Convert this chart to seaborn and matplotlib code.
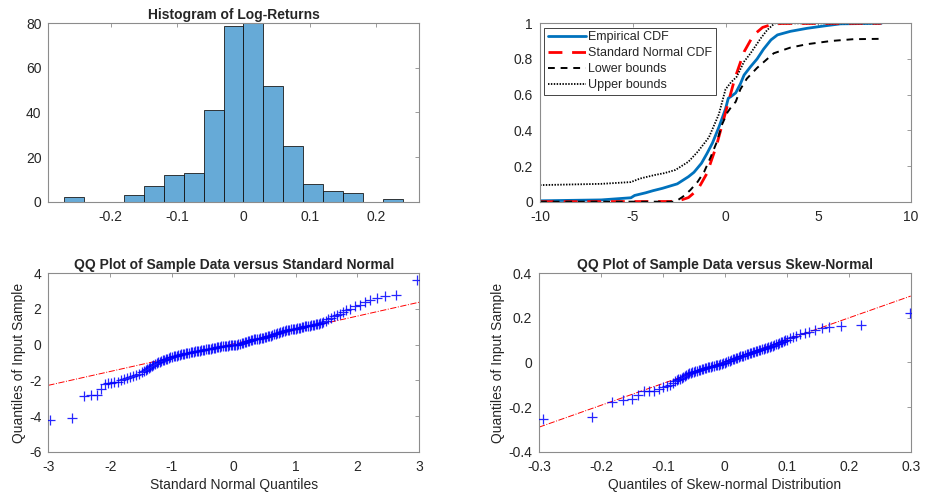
import matplotlib
matplotlib.use('Agg')
import matplotlib.pyplot as plt
import numpy as np
import seaborn as sns

# histogram of log-returns (bin edges + counts)
hist_edges = [-0.27, -0.24, -0.21, -0.18, -0.15, -0.12, -0.09, -0.06, -0.03, 0.0,
              0.03, 0.06, 0.09, 0.12, 0.15, 0.18, 0.21, 0.24]
hist_counts = [2, 0, 0, 3, 7, 12, 13, 41, 79, 80, 52, 25, 8, 5, 4, 0, 1]

# CDF panel
ecdf_x = [-10, -6.7, -5.1, -4.9, -4.3, -3.9, -3.4, -2.6, -2.0, -1.7, -1.3, -1.0, -0.7, -0.35,
          0.0, 0.15, 0.3, 0.55, 0.8, 1.0, 1.35, 1.7, 2.05, 2.45, 2.8, 3.5, 4.4, 5.3, 6.2, 8.4]
ecdf_y = [0.005, 0.01, 0.022, 0.035, 0.05, 0.062, 0.075, 0.1, 0.14, 0.165, 0.215, 0.27, 0.33, 0.42,
          0.52, 0.58, 0.59, 0.61, 0.66, 0.71, 0.757, 0.8, 0.855, 0.907, 0.935, 0.955, 0.972, 0.985, 0.997, 1.0]
norm_x = [-10, -3.0, -2.5, -2.0, -1.5, -1.0, -0.5, 0.0, 0.5, 1.0, 1.5, 2.0, 2.5, 3.0, 8.4]
norm_y = [0.0, 0.001, 0.006, 0.023, 0.067, 0.159, 0.31, 0.5, 0.69, 0.84, 0.933, 0.977, 0.994, 0.999, 1.0]
low_x = [-10, -2.7, -2.3, -1.9, -1.5, -1.15, -0.8, -0.45, -0.2, 0.1, 0.3, 0.55, 0.8, 1.15,
         1.7, 2.6, 3.5, 4.4, 5.7, 6.9, 8.4]
low_y = [0.0, 0.0, 0.028, 0.065, 0.112, 0.168, 0.25, 0.34, 0.43, 0.5, 0.53, 0.56, 0.63, 0.69,
         0.75, 0.832, 0.864, 0.883, 0.901, 0.911, 0.913]
up_x = [-10, -6.7, -5.1, -4.6, -3.8, -3.3, -2.7, -2.0, -1.5, -0.9, -0.36, 0.0, 0.3, 0.6,
        1.0, 1.35, 1.9, 2.25, 2.65, 8.4]
up_y = [0.093, 0.1, 0.11, 0.13, 0.15, 0.16, 0.178, 0.224, 0.28, 0.36, 0.49, 0.63, 0.67, 0.70,
        0.785, 0.832, 0.916, 0.963, 1.0, 1.0]

# QQ vs standard normal (theoretical quantile, sample quantile)
qq1_x = [-2.97, -2.61, -2.43, -2.31, -2.21, -2.15, -2.08, -2.03, -1.98, -1.93, -1.88, -1.83,
         -1.78, -1.73, -1.68, -1.63, -1.58, -1.53, -1.48,
         -1.45, -1.425, -1.4, -1.375, -1.35, -1.325, -1.3, -1.275, -1.25, -1.225,
         -1.2, -1.175, -1.15, -1.125, -1.1, -1.075, -1.05, -1.025, -1.0, -0.975,
         -0.95, -0.925, -0.9, -0.875, -0.85, -0.825, -0.8, -0.775, -0.75, -0.725,
         -0.7, -0.675, -0.65, -0.625, -0.6, -0.575, -0.55, -0.525, -0.5, -0.475,
         -0.45, -0.425, -0.4, -0.375, -0.35, -0.325, -0.3, -0.275, -0.25, -0.225,
         -0.2, -0.175, -0.15, -0.125, -0.1, -0.075, -0.05, -0.025, 0.0, 0.025,
         0.05, 0.075, 0.1, 0.125, 0.15, 0.175, 0.2, 0.225, 0.25, 0.275,
         0.3, 0.325, 0.35, 0.375, 0.4, 0.425, 0.45, 0.475, 0.5, 0.525,
         0.55, 0.575, 0.6, 0.625, 0.65, 0.675, 0.7, 0.725, 0.75, 0.775,
         0.8, 0.825, 0.85, 0.875, 0.9, 0.925, 0.95, 0.975, 1.0, 1.025,
         1.05, 1.075, 1.1, 1.125, 1.15, 1.175, 1.2, 1.225, 1.25, 1.275,
         1.3, 1.325, 1.35, 1.375, 1.4, 1.425, 1.45,
         1.49, 1.53, 1.57, 1.62, 1.67, 1.72, 1.77, 1.82, 1.88, 1.96, 2.04, 2.12, 2.21,
         2.32, 2.45, 2.62, 2.97]
qq1_y = [-4.2, -4.12, -2.9, -2.82, -2.8, -2.47, -2.19, -2.15, -2.13, -2.12, -2.1, -2.0,
         -1.91, -1.85, -1.8, -1.76, -1.72, -1.65, -1.55,
         -1.47, -1.41, -1.35, -1.29, -1.24, -1.19, -1.14, -1.09, -1.03, -0.99,
         -0.95, -0.92, -0.88, -0.84, -0.81, -0.78, -0.75, -0.71, -0.68, -0.65,
         -0.63, -0.61, -0.59, -0.57, -0.55, -0.53, -0.51, -0.49, -0.47, -0.45,
         -0.43, -0.42, -0.40, -0.38, -0.36, -0.35, -0.33, -0.32, -0.30, -0.28,
         -0.26, -0.25, -0.23, -0.22, -0.20, -0.19, -0.17, -0.15, -0.13, -0.12,
         -0.10, -0.09, -0.07, -0.06, -0.05, -0.04, -0.035, -0.03, -0.02, -0.01,
         0.0, 0.02, 0.05, 0.07, 0.10, 0.14, 0.17, 0.20, 0.23, 0.25,
         0.27, 0.29, 0.31, 0.32, 0.34, 0.36, 0.38, 0.40, 0.42, 0.44,
         0.47, 0.49, 0.51, 0.53, 0.57, 0.60, 0.63, 0.66, 0.69, 0.71,
         0.74, 0.77, 0.80, 0.82, 0.84, 0.86, 0.87, 0.89, 0.90, 0.92,
         0.94, 0.96, 0.98, 1.00, 1.02, 1.03, 1.05, 1.06, 1.08, 1.09,
         1.11, 1.13, 1.15, 1.17, 1.20, 1.22, 1.25,
         1.32, 1.42, 1.5, 1.6, 1.68, 1.74, 1.83, 1.92, 2.02, 2.16, 2.24, 2.39, 2.52,
         2.61, 2.7, 2.76, 3.64]
qq1_line_x = [-3, 3]
qq1_line_y = [-2.28, 2.38]

# QQ vs skew-normal
qq2_x = [-0.293, -0.214, -0.182, -0.164, -0.15, -0.14, -0.13, -0.122, -0.114, -0.106, -0.1,
         -0.094, -0.088, -0.083,
         -0.08, -0.0775, -0.075, -0.0725, -0.07, -0.0675, -0.065, -0.0625, -0.06, -0.0575,
         -0.055, -0.0525, -0.05, -0.0475, -0.045, -0.0425, -0.04, -0.0375, -0.035, -0.0325,
         -0.03, -0.0275, -0.025, -0.0225, -0.02, -0.0175, -0.015, -0.0125, -0.01, -0.0075,
         -0.005, -0.0025, 0.0, 0.0025, 0.005, 0.0075, 0.01, 0.0125, 0.015, 0.0175,
         0.02, 0.0225, 0.025, 0.0275, 0.03, 0.0325, 0.035, 0.0375, 0.04, 0.0425,
         0.045, 0.0475, 0.05, 0.0525, 0.055, 0.0575, 0.06, 0.0625, 0.065, 0.0675,
         0.07, 0.0725, 0.075, 0.0775, 0.08, 0.0825, 0.085, 0.0875, 0.09, 0.0925,
         0.095, 0.0975, 0.1,
         0.105, 0.11, 0.115, 0.121, 0.129, 0.136, 0.145, 0.156, 0.168, 0.187, 0.219, 0.299]
qq2_y = [-0.253, -0.245, -0.175, -0.168, -0.165, -0.148, -0.13, -0.128, -0.126, -0.118, -0.112,
         -0.106, -0.1, -0.092,
         -0.082, -0.079, -0.076, -0.072, -0.068, -0.064, -0.060, -0.056, -0.052, -0.049,
         -0.046, -0.044, -0.042, -0.040, -0.037, -0.035, -0.032, -0.030, -0.028, -0.026,
         -0.024, -0.022, -0.020, -0.018, -0.016, -0.014, -0.012, -0.010, -0.009, -0.007,
         -0.005, -0.003, -0.001, 0.002, 0.005, 0.008, 0.011, 0.014, 0.017, 0.020,
         0.022, 0.024, 0.027, 0.029, 0.031, 0.034, 0.036, 0.039, 0.042, 0.044,
         0.047, 0.049, 0.051, 0.053, 0.056, 0.058, 0.060, 0.062, 0.064, 0.066,
         0.069, 0.071, 0.074, 0.076, 0.079, 0.082, 0.085, 0.088, 0.091, 0.094,
         0.096, 0.099, 0.101,
         0.108, 0.113, 0.118, 0.128, 0.134, 0.138, 0.146, 0.153, 0.159, 0.165, 0.168, 0.221]
qq2_line_x = [-0.3, 0.3]
qq2_line_y = [-0.29, 0.298]

sns.set_style('white')
plt.rcParams['font.family'] = ['Liberation Sans', 'DejaVu Sans']
plt.rcParams['font.size'] = 10
plt.rcParams['axes.unicode_minus'] = False
plt.rcParams['text.color'] = '#262626'
plt.rcParams['axes.labelcolor'] = '#262626'

fig = plt.figure(figsize=(9.26, 4.98), dpi=100)
ax1 = fig.add_axes([0.0522, 0.595, 0.4006, 0.3582])
ax2 = fig.add_axes([0.5832, 0.595, 0.4006, 0.3582])
ax3 = fig.add_axes([0.0522, 0.093, 0.4006, 0.3582])
ax4 = fig.add_axes([0.5821, 0.093, 0.4014, 0.3582])


def matlab_axes(ax):
    for sp in ax.spines.values():
        sp.set_color('#8c8c8c')
        sp.set_linewidth(0.8)
    ax.tick_params(direction='in', top=True, right=True, length=3, width=0.6,
                   labelsize=10, color='#8c8c8c', labelcolor='#262626')
    ax.tick_params(axis='x', pad=6)
    ax.tick_params(axis='y', pad=5)


# histogram
centers = [(a + b) / 2 for a, b in zip(hist_edges[:-1], hist_edges[1:])]
sns.histplot(x=centers, weights=hist_counts, bins=hist_edges, ax=ax1,
             color='#0072BD', alpha=0.6, edgecolor='#1a1a1a', linewidth=0.6)
ax1.set_xlim(-0.294, 0.265)
ax1.set_ylim(0, 80)
ax1.set_xticks([-0.2, -0.1, 0, 0.1, 0.2])
ax1.set_xticklabels(['-0.2', '-0.1', '0', '0.1', '0.2'])
ax1.set_yticks([0, 20, 40, 60, 80])
ax1.set_ylabel('')
ax1.set_title('Histogram of Log-Returns', fontweight='bold', fontsize=10, pad=3)
matlab_axes(ax1)

# CDF panel
sns.lineplot(x=ecdf_x, y=ecdf_y, ax=ax2, color='#0072BD', linewidth=2, label='Empirical CDF')
sns.lineplot(x=norm_x, y=norm_y, ax=ax2, color='red', linewidth=2, label='Standard Normal CDF')
ax2.lines[-1].set_dashes([5, 3.5])
sns.lineplot(x=low_x, y=low_y, ax=ax2, color='black', linewidth=1.4, label='Lower bounds')
ax2.lines[-1].set_dashes([3.5, 3])
sns.lineplot(x=up_x, y=up_y, ax=ax2, color='black', linewidth=1.3, label='Upper bounds')
ax2.lines[-1].set_dashes([0.8, 0.8])
ax2.set_xlim(-10, 10)
ax2.set_ylim(0, 1)
ax2.set_xticks([-10, -5, 0, 5, 10])
ax2.set_yticks([0, 0.2, 0.4, 0.6, 0.8, 1])
ax2.set_yticklabels(['0', '0.2', '0.4', '0.6', '0.8', '1'])
leg = ax2.legend(loc='upper left', fontsize=9, frameon=True, fancybox=False,
                 framealpha=1, edgecolor='#262626', handlelength=3.0, labelspacing=0.32,
                 borderpad=0.3, handletextpad=0.2, borderaxespad=0.35)
leg.get_frame().set_linewidth(0.6)
matlab_axes(ax2)

# QQ vs standard normal
sns.lineplot(x=qq1_line_x, y=qq1_line_y, ax=ax3, color='red', linewidth=0.7, linestyle='-.')
sns.scatterplot(x=qq1_x, y=qq1_y, ax=ax3, marker='+', color='blue', s=48, linewidth=0.9,
                alpha=0.85, zorder=3)
ax3.set_xlim(-3, 3)
ax3.set_ylim(-6, 4)
ax3.set_xticks([-3, -2, -1, 0, 1, 2, 3])
ax3.set_yticks([-6, -4, -2, 0, 2, 4])
ax3.set_xlabel('Standard Normal Quantiles', fontsize=10, labelpad=3)
ax3.set_ylabel('Quantiles of Input Sample', fontsize=10, labelpad=2)
ax3.set_title('QQ Plot of Sample Data versus Standard Normal', fontweight='bold',
              fontsize=10, pad=3)
matlab_axes(ax3)

# QQ vs skew-normal
sns.lineplot(x=qq2_line_x, y=qq2_line_y, ax=ax4, color='red', linewidth=0.7, linestyle='-.')
sns.scatterplot(x=qq2_x, y=qq2_y, ax=ax4, marker='+', color='blue', s=48, linewidth=0.9,
                alpha=0.85, zorder=3)
ax4.set_xlim(-0.3, 0.3)
ax4.set_ylim(-0.4, 0.4)
ax4.set_xticks([-0.3, -0.2, -0.1, 0, 0.1, 0.2, 0.3])
ax4.set_xticklabels(['-0.3', '-0.2', '-0.1', '0', '0.1', '0.2', '0.3'])
ax4.set_yticks([-0.4, -0.2, 0, 0.2, 0.4])
ax4.set_yticklabels(['-0.4', '-0.2', '0', '0.2', '0.4'])
ax4.set_xlabel('Quantiles of Skew-normal Distribution', fontsize=10, labelpad=3)
ax4.set_ylabel('Quantiles of Input Sample', fontsize=10, labelpad=2)
ax4.set_title('QQ Plot of Sample Data versus Skew-Normal', fontweight='bold',
              fontsize=10, pad=3)
matlab_axes(ax4)

fig.savefig('out.png', dpi=100, facecolor='white')
